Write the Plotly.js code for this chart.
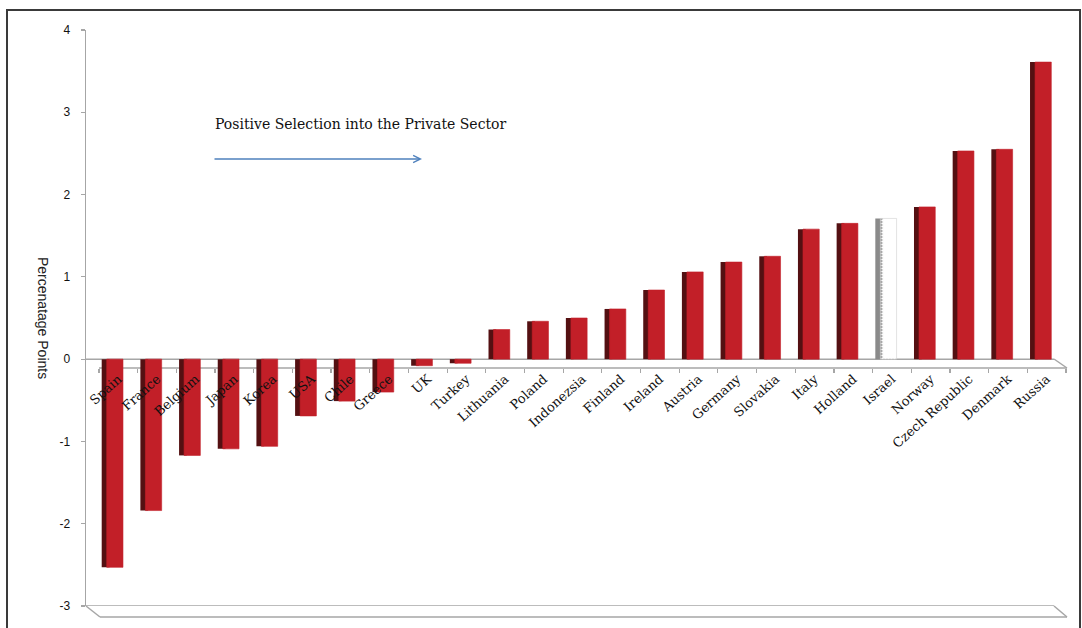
<!DOCTYPE html>
<html>
<head>
<meta charset="utf-8">
<script src="https://cdn.plot.ly/plotly-3.0.1.min.js"></script>
<style>
  html, body { margin: 0; padding: 0; background: #ffffff; }
  #chart { width: 1082px; height: 628px; }
</style>
</head>
<body>
<div id="chart"></div>
<script>
// ---- data ----
const categories = ['Spain', 'France', 'Belgium', 'Japan', 'Korea', 'USA', 'Chile', 'Greece', 'UK', 'Turkey',
  'Lithuania', 'Poland', 'Indonezsia', 'Finland', 'Ireland', 'Austria', 'Germany', 'Slovakia', 'Italy',
  'Holland', 'Israel', 'Norway', 'Czech Republic', 'Denmark', 'Russia'];
const values = [-2.53, -1.84, -1.17, -1.09, -1.06, -0.69, -0.51, -0.40, -0.08, -0.05,
  0.36, 0.46, 0.50, 0.61, 0.84, 1.06, 1.18, 1.25, 1.58,
  1.65, 1.71, 1.85, 2.53, 2.55, 3.61];
const yTicks = [-3, -2, -1, 0, 1, 2, 3, 4];
const highlighted = 'Israel';
const yTitle = 'Percenatage Points';
const noteText = 'Positive Selection into the Private Sector';

// ---- styling ----
const RED = '#c21f28';
const RED_SIDE = '#541012';
const GREY_SIDE = '#8a8a8a';
const AXIS = '#a6a6a6';

const frontColors = categories.map(c => c === highlighted ? '#ffffff' : RED);
const sideColors = categories.map(c => c === highlighted ? GREY_SIDE : RED_SIDE);
const patternShapes = categories.map(c => c === highlighted ? '.' : '');
const frontLineColors = categories.map(c => c === highlighted ? '#d0d0d0' : RED);

const side = {
  type: 'bar', x: categories, y: values,
  offset: -0.43, width: 0.2,
  marker: { color: sideColors, line: { width: 0 } },
  hoverinfo: 'skip', showlegend: false
};
const front = {
  type: 'bar', x: categories, y: values,
  offset: -0.30, width: 0.42,
  marker: {
    color: frontColors,
    line: { width: 0.6, color: frontLineColors },
    pattern: { shape: patternShapes, fgcolor: '#e07886', bgcolor: '#ffffff', size: 3, solidity: 0.5 }
  },
  showlegend: false
};

const L = 86, R = 1066, T = 30, B = 606;
const px = x => (x - L) / (R - L);
const py = y => (B - y) / (B - T);

const layout = {
  width: 1082, height: 628,
  margin: { l: L, r: 1082 - R, t: T, b: 628 - B, pad: 0 },
  paper_bgcolor: '#ffffff', plot_bgcolor: 'rgba(0,0,0,0)',
  barmode: 'overlay',
  showlegend: false,
  xaxis: {
    type: 'category',
    range: [-0.836, 24.5],
    anchor: 'free', position: py(368),
    showline: false, showgrid: false, zeroline: false,
    ticks: 'outside', tickson: 'boundaries', ticklen: 4, tickcolor: AXIS, tickwidth: 1.2,
    tickangle: -42,
    tickfont: { family: 'DejaVu Serif, serif', size: 13, color: '#111111' },
    automargin: false, fixedrange: true
  },
  yaxis: {
    range: [-3, 4],
    tickvals: yTicks,
    ticktext: yTicks.map(String),
    showline: true, linecolor: AXIS, linewidth: 1.5,
    ticks: 'outside', ticklen: 4, tickcolor: AXIS, tickwidth: 1.2,
    showgrid: false, zeroline: false,
    tickfont: { family: 'Liberation Sans, Arial, sans-serif', size: 12, color: '#111111' },
    ticklabelstandoff: 8,
    automargin: false, fixedrange: true
  },
  shapes: [
    // outer frame
    { type: 'rect', xref: 'paper', yref: 'paper', x0: px(7), x1: px(1080), y0: py(650), y1: py(10),
      line: { color: '#3a3a3a', width: 2 }, fillcolor: 'rgba(0,0,0,0)', layer: 'below' },
    // zero plane (back edge at 0, front edge lower)
    { type: 'line', xref: 'paper', yref: 'y', x0: 0, x1: px(1054), y0: 0, y1: 0,
      line: { color: AXIS, width: 1.5 }, layer: 'below' },
    { type: 'line', xref: 'paper', yref: 'paper', x0: px(99), x1: px(1067), y0: py(368), y1: py(368),
      line: { color: AXIS, width: 1.5 }, layer: 'below' },
    { type: 'line', xref: 'paper', yref: 'paper', x0: px(1054), x1: px(1067), y0: py(359), y1: py(368),
      line: { color: AXIS, width: 1.5 }, layer: 'below' },
    // floor at -3
    { type: 'line', xref: 'paper', yref: 'y', x0: 0, x1: px(1054), y0: -3, y1: -3,
      line: { color: AXIS, width: 1.5 }, layer: 'below' },
    { type: 'line', xref: 'paper', yref: 'paper', x0: px(100), x1: px(1067), y0: py(617), y1: py(617),
      line: { color: AXIS, width: 1.5 }, layer: 'below' },
    { type: 'line', xref: 'paper', yref: 'paper', x0: 0, x1: px(100), y0: 0, y1: py(617),
      line: { color: AXIS, width: 1.5 }, layer: 'below' },
    { type: 'line', xref: 'paper', yref: 'paper', x0: px(1054), x1: px(1067), y0: 0, y1: py(617),
      line: { color: AXIS, width: 1.5 }, layer: 'below' }
  ],
  annotations: [
    { xref: 'paper', yref: 'paper', x: px(43), y: py(318), text: yTitle, textangle: 90,
      showarrow: false, xanchor: 'center', yanchor: 'middle',
      font: { family: 'Liberation Sans, Arial, sans-serif', size: 14, color: '#222222' } },
    { xref: 'paper', yref: 'paper', x: px(213), y: py(124), text: noteText,
      showarrow: false, xanchor: 'left', yanchor: 'middle',
      font: { family: 'DejaVu Serif, serif', size: 14, color: '#111111' } },
    { xref: 'paper', yref: 'paper', x: px(422), y: py(159), text: '',
      showarrow: true, ax: -209, ay: 0, axref: 'pixel', ayref: 'pixel',
      arrowhead: 5, arrowsize: 1.1, arrowwidth: 1.3, arrowcolor: '#4f81bd' }
  ]
};

Plotly.newPlot('chart', [side, front], layout, { displayModeBar: false, staticPlot: true });
</script>
</body>
</html>
